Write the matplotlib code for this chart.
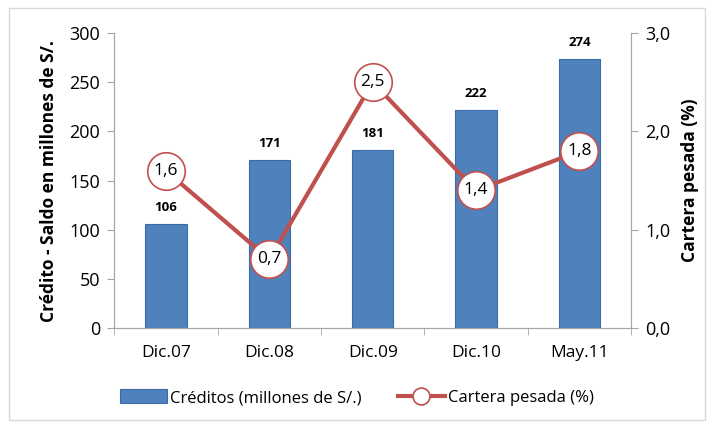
import matplotlib.pyplot as plt
from matplotlib.patches import Rectangle

periodos = ['Dic.07', 'Dic.08', 'Dic.09', 'Dic.10', 'May.11']
creditos = [106, 171, 181, 222, 274]
cartera = [1.6, 0.7, 2.5, 1.4, 1.8]

plt.rcParams['font.family'] = ['Open Sans', 'DejaVu Sans']

azul = '#4F81BD'
rojo = '#C0504D'
gris = '#A6A6A6'

fig = plt.figure(figsize=(7.14, 4.24), dpi=100, facecolor='white')
ax = fig.add_axes([0.160, 0.226, 0.724, 0.696])
ax2 = ax.twinx()

x = range(len(periodos))
barras = ax.bar(x, creditos, width=0.4, color=azul, edgecolor='#3A6CA8',
                linewidth=0.8, label='Créditos (millones de S/.)', zorder=2)
for xi, v in zip(x, creditos):
    ax.text(xi, v + 10, str(v), ha='center', va='bottom', fontsize=9.5,
            fontweight='bold')

linea, = ax2.plot(x, cartera, color=rojo, linewidth=3, marker='o',
                  markersize=27, markerfacecolor='white', markeredgecolor=rojo,
                  markeredgewidth=1.2, label='Cartera pesada (%)', zorder=3)
for xi, v in zip(x, cartera):
    ax2.text(xi, v, f'{v:.1f}'.replace('.', ','), ha='center', va='center',
             fontsize=12.5, zorder=4)

ax.set_xlim(-0.5, len(periodos) - 0.5)
ax.set_ylim(0, 300)
ax2.set_ylim(0, 3)
ax.set_yticks(range(0, 301, 50))
ax2.set_yticks([0, 1, 2, 3])
ax2.set_yticklabels(['0,0', '1,0', '2,0', '3,0'])

ax.set_xticks(list(x))
ax.set_xticklabels(periodos, fontsize=12.5)
ax.set_xticks([i - 0.5 for i in range(len(periodos) + 1)], minor=True)
ax.tick_params(axis='x', which='major', length=0, pad=12)
ax.tick_params(axis='x', which='minor', length=5, color=gris, direction='out')
ax.tick_params(axis='y', labelsize=13, length=5, color=gris, pad=5)
ax2.tick_params(axis='y', labelsize=13, length=5, color=gris, pad=5)

for a in (ax, ax2):
    a.spines['top'].set_visible(False)
    for s in ('left', 'right', 'bottom'):
        a.spines[s].set_color(gris)

ax.set_ylabel('Crédito - Saldo en millones de S/.', fontsize=12.5,
              fontweight='bold', labelpad=8)
ax2.set_ylabel('Cartera pesada (%)', fontsize=12.5, fontweight='bold', labelpad=8)

fig.legend([barras, linea], ['Créditos (millones de S/.)', 'Cartera pesada (%)'],
           loc='center', bbox_to_anchor=(0.5, 0.062), ncol=2, frameon=False,
           fontsize=12, handlelength=2.8, handleheight=0.9, columnspacing=2.2,
           markerscale=0.45, handletextpad=0.2)

fig.patches.append(Rectangle((0.012, 0.01), 0.976, 0.972, transform=fig.transFigure,
                             fill=False, edgecolor='#D9D9D9', linewidth=1))

plt.savefig('out.png', dpi=100, facecolor='white')
